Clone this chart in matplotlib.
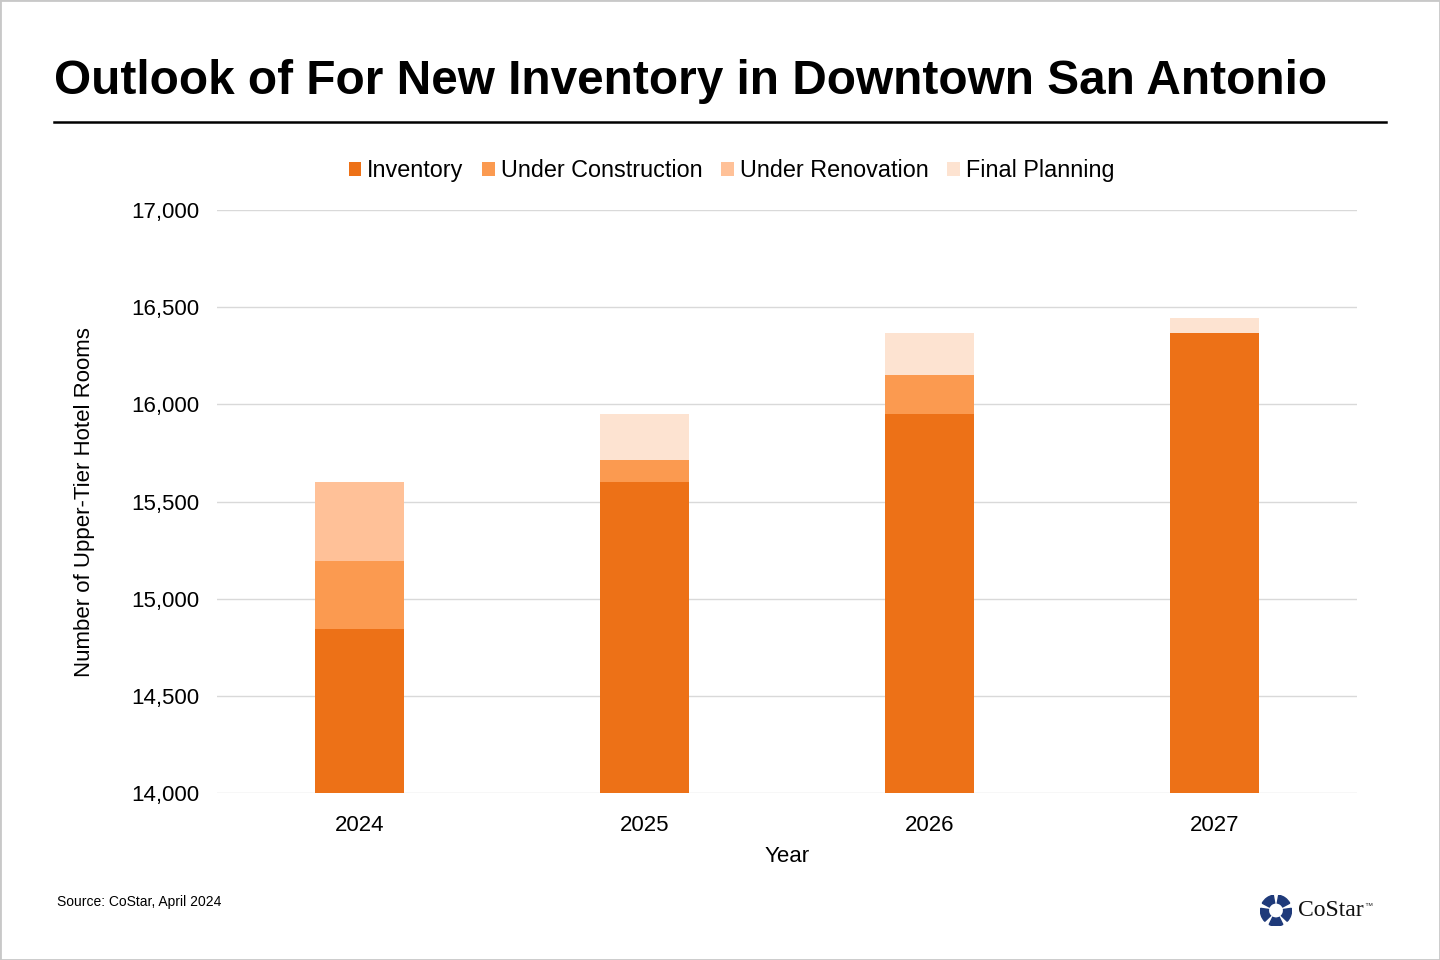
import matplotlib.pyplot as plt
import numpy as np
from matplotlib.patches import Rectangle, Wedge
from matplotlib.lines import Line2D
from matplotlib.ticker import FuncFormatter

plt.rcParams["font.family"] = ["Liberation Sans", "DejaVu Sans"]

years = ["2024", "2025", "2026", "2027"]
inventory = [14844, 15600, 15950, 16367]
under_construction = [350, 113, 201, 0]
under_renovation = [406, 0, 0, 0]
final_planning = [0, 237, 216, 77]

series = [
    ("Inventory", inventory, "#ED7117"),
    ("Under Construction", under_construction, "#FB9A50"),
    ("Under Renovation", under_renovation, "#FFC198"),
    ("Final Planning", final_planning, "#FDE3D1"),
]

fig = plt.figure(figsize=(14.4, 9.6), dpi=100)
ax = fig.add_axes([0.1507, 0.174, 0.7917, 0.607])

x = np.arange(len(years))
bottom = np.zeros(len(years))
for name, vals, col in series:
    vals = np.array(vals, dtype=float)
    ax.bar(x, vals, width=0.31, bottom=bottom, color=col, label=name, zorder=3)
    bottom += vals

ax.set_xlim(-0.5, 3.5)
ax.set_ylim(14000, 17000)
ax.set_yticks(np.arange(14000, 17001, 500))
ax.yaxis.set_major_formatter(FuncFormatter(lambda v, p: f"{int(v):,}"))
ax.set_xticks(x)
ax.set_xticklabels(years)
ax.tick_params(axis="both", length=0, labelsize=16, colors="black")
ax.tick_params(axis="y", pad=13)
ax.tick_params(axis="x", pad=16)
ax.grid(axis="y", color="#d9d9d9", lw=1, zorder=0)
for s in ["top", "right", "left", "bottom"]:
    ax.spines[s].set_visible(False)

ax.set_xlabel("Year", fontsize=16, labelpad=7)
ax.set_ylabel("Number of Upper-Tier Hotel Rooms", fontsize=16, labelpad=26)

leg = fig.legend(loc="center", bbox_to_anchor=(0.508, 0.822), ncol=4, frameon=False,
                 fontsize=16.8, handlelength=0.55, handleheight=0.55, handletextpad=0.25,
                 columnspacing=0.8)

fig.text(0.0375, 0.915, "Outlook of For New Inventory in Downtown San Antonio",
         fontsize=34.4, fontweight="bold", va="center", ha="left")
fig.add_artist(Line2D([0.0375, 0.9625], [0.873, 0.873], color="black", lw=1.8))

fig.text(0.0396, 0.0604, "Source: CoStar, April 2024", fontsize=10, va="center")

# CoStar logo
lx, ly = 1276 / 1440, 49.5 / 960
lax = fig.add_axes([lx - 0.011, ly - 0.0165, 0.022, 0.033])
lax.set_xlim(-1, 1)
lax.set_ylim(-1, 1)
lax.set_aspect("equal")
lax.axis("off")
for k in range(5):
    a0 = 90 + k * 72 + 10
    lax.add_patch(Wedge((0, 0), 0.98, a0, a0 + 52, width=0.5, color="#1F3A7A"))
fig.text(1298 / 1440, 0.0516, "CoStar", fontsize=17, family=["Liberation Serif", "DejaVu Serif"],
         va="center", color="#111111")
fig.text(1364 / 1440, 0.0557, "™", fontsize=6, va="center", color="#333333")

fig.add_artist(Rectangle((0, 0), 1, 1, transform=fig.transFigure, fill=False,
                         edgecolor="#c8c8c8", lw=2))

fig.savefig("out.png", dpi=100)
